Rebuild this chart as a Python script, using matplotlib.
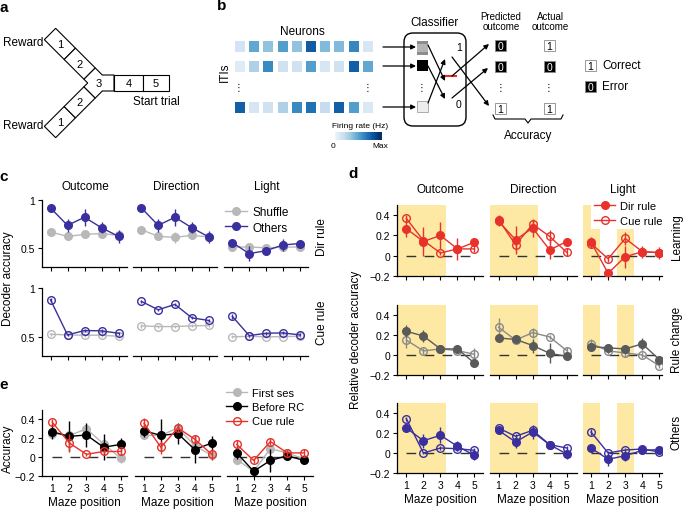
import numpy as np
import matplotlib
matplotlib.use("Agg")
import matplotlib.pyplot as plt
from matplotlib.patches import Rectangle, Polygon, FancyBboxPatch
from matplotlib.lines import Line2D

plt.rcParams["font.family"] = ["Liberation Sans", "DejaVu Sans"]
plt.rcParams["axes.linewidth"] = 0.9

# ---------------- data ----------------
positions = [1, 2, 3, 4, 5]
columns = ["Outcome", "Direction", "Light"]

# panel b: firing rates (0..1) for the three example ITIs
iti_rates_1 = [0.12, 0.55, 0.4, 0.6, 0.4, 0.92, 0.45, 0.45, 0.72, 0.1]
iti_rates_2 = [0.05, 0.3, 0.7, 0.15, 0.15, 0.6, 0.1, 0.15, 0.9, 0.55]
iti_rates_3 = [0.9, 0.1, 0.15, 0.3, 0.7, 0.82, 0.2, 0.9, 0.6, 0.08]

# panel c: decoder accuracy, one list per column (Outcome, Direction, Light)
c_dir_others = [[0.917, 0.735, 0.82, 0.71, 0.62],
                [0.917, 0.735, 0.82, 0.71, 0.615],
                [0.555, 0.44, 0.47, 0.53, 0.545]]
c_dir_others_err = [[0.02, 0.07, 0.09, 0.055, 0.07],
                    [0.02, 0.07, 0.09, 0.055, 0.06],
                    [0.04, 0.08, 0.04, 0.06, 0.03]]
c_dir_shuffle = [[0.666, 0.62, 0.64, 0.65, 0.63],
                 [0.69, 0.62, 0.61, 0.63, 0.615],
                 [0.507, 0.51, 0.50, 0.507, 0.51]]
c_dir_shuffle_err = [[0.02, 0.03, 0.04, 0.03, 0.03],
                     [0.03, 0.04, 0.06, 0.04, 0.05],
                     [0.04, 0.03, 0.03, 0.04, 0.04]]
c_cue_others = [[0.879, 0.517, 0.562, 0.559, 0.534],
                [0.862, 0.776, 0.831, 0.693, 0.666],
                [0.707, 0.51, 0.534, 0.538, 0.517]]
c_cue_others_err = [[0.02, 0.01, 0.02, 0.02, 0.015],
                    [0.015, 0.01, 0.015, 0.015, 0.015],
                    [0.03, 0.01, 0.015, 0.015, 0.015]]
c_cue_shuffle = [[0.524, 0.517, 0.514, 0.514, 0.503],
                 [0.61, 0.603, 0.603, 0.61, 0.614],
                 [0.497, 0.503, 0.497, 0.5, 0.503]]
c_cue_shuffle_err = [[0.015, 0.015, 0.015, 0.015, 0.015],
                     [0.02, 0.015, 0.015, 0.015, 0.015],
                     [0.015, 0.015, 0.015, 0.015, 0.015]]

# panel d: relative decoder accuracy (filled = Dir rule, open = Cue rule)
d_learn_dir = [[0.267, 0.14, 0.2, 0.067, 0.133],
               [0.34, 0.157, 0.273, 0.057, 0.14],
               [0.133, -0.173, -0.01, 0.04, 0.03]]
d_learn_dir_err = [[0.08, 0.14, 0.13, 0.11, 0.02],
                   [0.05, 0.14, 0.09, 0.09, 0.02],
                   [0.05, 0.03, 0.11, 0.06, 0.06]]
d_learn_cue = [[0.367, 0.15, 0.027, 0.067, 0.067],
               [0.357, 0.107, 0.31, 0.19, 0.033],
               [0.12, -0.03, 0.17, 0.04, 0.03]]
d_learn_cue_err = [[0.03, 0.03, 0.02, 0.03, 0.03],
                   [0.04, 0.05, 0.04, 0.06, 0.04],
                   [0.04, 0.03, 0.06, 0.05, 0.03]]
d_rc_dir = [[0.237, 0.19, 0.061, 0.061, -0.081],
            [0.17, 0.156, 0.095, 0.017, -0.014],
            [0.085, 0.071, 0.061, 0.112, -0.047]]
d_rc_dir_err = [[0.06, 0.06, 0.03, 0.04, 0.03],
                [0.02, 0.03, 0.07, 0.1, 0.03],
                [0.03, 0.02, 0.02, 0.06, 0.03]]
d_rc_cue = [[0.149, 0.041, 0.061, 0.044, 0.007],
            [0.278, 0.149, 0.224, 0.18, 0.044],
            [0.115, 0.041, 0.02, 0.0, -0.108]]
d_rc_cue_err = [[0.08, 0.03, 0.03, 0.03, 0.06],
                [0.09, 0.04, 0.05, 0.02, 0.04],
                [0.05, 0.03, 0.04, 0.03, 0.02]]
d_oth_dir = [[0.25, 0.123, 0.177, 0.067, -0.023],
             [0.227, 0.11, 0.21, 0.083, -0.01],
             [0.05, -0.063, -0.027, 0.027, 0.033]]
d_oth_dir_err = [[0.02, 0.07, 0.08, 0.05, 0.05],
                 [0.02, 0.06, 0.07, 0.03, 0.05],
                 [0.04, 0.07, 0.05, 0.04, 0.02]]
d_oth_cue = [[0.343, 0.0, 0.05, 0.043, 0.027],
             [0.25, 0.167, 0.227, 0.083, 0.05],
             [0.21, 0.0, 0.03, 0.04, 0.01]]
d_oth_cue_err = [[0.02, 0.01, 0.02, 0.02, 0.02],
                 [0.02, 0.02, 0.02, 0.03, 0.02],
                 [0.03, 0.02, 0.02, 0.02, 0.02]]

# panel e: accuracy
e_first = [[0.25, 0.23, 0.30, 0.14, -0.01],
           [0.23, 0.23, 0.31, 0.12, 0.02],
           [-0.025, -0.15, 0.09, 0.045, -0.02]]
e_first_err = [[0.04, 0.04, 0.05, 0.06, 0.05],
               [0.04, 0.04, 0.04, 0.05, 0.05],
               [0.05, 0.03, 0.05, 0.04, 0.03]]
e_before = [[0.27, 0.22, 0.235, 0.105, 0.135],
            [0.28, 0.23, 0.25, 0.08, 0.15],
            [0.045, -0.15, -0.035, 0.015, -0.035]]
e_before_err = [[0.08, 0.16, 0.13, 0.14, 0.07],
                [0.07, 0.17, 0.11, 0.14, 0.07],
                [0.06, 0.04, 0.12, 0.05, 0.02]]
e_cue = [[0.37, 0.15, 0.03, 0.06, 0.06],
         [0.36, 0.105, 0.31, 0.19, 0.03],
         [0.135, -0.035, 0.165, 0.045, 0.045]]
e_cue_err = [[0.03, 0.1, 0.015, 0.03, 0.04],
             [0.05, 0.07, 0.04, 0.04, 0.06],
             [0.05, 0.03, 0.04, 0.03, 0.04]]

BLUE = "#3a2f9f"
GREY = "#b8b8b8"
RED = "#e8312a"
DGREY = "#5a5a5a"
MGREY = "#8a8a8a"
YELLOW = "#fde9a3"

W, H = 685, 510
fig = plt.figure(figsize=(W / 100, H / 100), dpi=100)


def px_axes(x0, y0, x1, y1):
    return fig.add_axes([x0 / W, 1 - y1 / H, (x1 - x0) / W, (y1 - y0) / H])


def ftext(x, y, s, **kw):
    kw.setdefault("ha", "center")
    kw.setdefault("va", "center")
    fig.text(x / W, 1 - y / H, s, **kw)


def style(ax, left, xlabels):
    for s in ["top", "right"]:
        ax.spines[s].set_visible(False)
    if not left:
        ax.spines["left"].set_visible(False)
        ax.tick_params(axis="y", left=False, labelleft=False)
    ax.tick_params(length=3, width=0.8, labelsize=7.5, pad=2)
    ax.set_xticks(positions)
    if not xlabels:
        ax.set_xticklabels([])


def series(ax, y, err, color, filled, z=3):
    ax.errorbar(positions, y, yerr=err, color=color, marker="o", ms=5.5,
                mfc=color if filled else "none", mec=color, mew=1,
                lw=1, elinewidth=1, capsize=0, zorder=z)


def zero_line(ax):
    ax.plot([1, 5], [0, 0], color="#333333", lw=1, ls=(0, (7, 6)), zorder=1)


# overlay for the diagrams
ov = fig.add_axes([0, 0, 1, 1])
ov.set_xlim(0, W)
ov.set_ylim(H, 0)
ov.axis("off")

# ---------------- panel a: maze ----------------
d_vec = np.array([1, 1]) / np.sqrt(2)
n_vec = np.array([1, -1]) / np.sqrt(2)
hw, cell, start = 8, 28, np.array([50.0, 35.0])


def mirror(p):
    return np.array([p[0], 168 - p[1]])


for flip in (False, True):
    for k in range(2):
        c0 = start + k * cell * d_vec
        c1 = c0 + cell * d_vec
        pts = [c0 + hw * n_vec, c1 + hw * n_vec, c1 - hw * n_vec, c0 - hw * n_vec]
        ctr = (c0 + c1) / 2
        if flip:
            pts = [mirror(p) for p in pts]
            ctr = mirror(ctr)
        ov.add_patch(Polygon(pts, closed=True, fc="white", ec="k", lw=0.8))
        ov.text(ctr[0], ctr[1], str(k + 1), ha="center", va="center", fontsize=8)

end2 = start + 2 * cell * d_vec
up_out, up_in = end2 + hw * n_vec, end2 - hw * n_vec
junction = [up_out, (102.3, 76), (114, 76), (114, 92), (102.3, 92),
            mirror(up_out), mirror(up_in), (87.7, 84), up_in]
ov.add_patch(Polygon(junction, closed=True, fc="white", ec="k", lw=0.8))
ov.text(99, 84, "3", ha="center", va="center", fontsize=8)
ov.add_patch(Rectangle((114, 76), 29, 16, fc="white", ec="k", lw=0.8))
ov.add_patch(Rectangle((143, 76), 26, 16, fc="white", ec="k", lw=0.8))
ov.text(128.5, 84, "4", ha="center", va="center", fontsize=8)
ov.text(156, 84, "5", ha="center", va="center", fontsize=8)
ov.text(3, 43, "Reward", ha="left", va="center", fontsize=8.5)
ov.text(3, 126, "Reward", ha="left", va="center", fontsize=8.5)
ov.text(133, 102, "Start trial", ha="left", va="center", fontsize=8.5)

# ---------------- panel b: decoder scheme ----------------
cmap = plt.get_cmap("Blues")
for rates, y0 in zip([iti_rates_1, iti_rates_2, iti_rates_3], [42, 62, 103]):
    for i, r in enumerate(rates):
        ov.add_patch(Rectangle((235 + i * 14.2, y0), 10, 11, fc=cmap(0.08 + 0.82 * r), ec="none"))
ov.text(302, 32, "Neurons", ha="center", va="center", fontsize=8.5)
ov.text(225, 72, "ITIs", ha="center", va="center", fontsize=8.5, rotation=90)
for x in (239, 368, 422, 501, 549):
    ov.text(x, 88, "⋮", ha="center", va="center", fontsize=7)

grad = np.linspace(0, 1, 100).reshape(1, -1)
ov.imshow(grad, cmap="Blues", extent=(335, 382, 141, 133), aspect="auto", vmin=-0.05, vmax=0.95)
ov.text(360, 127, "Firing rate (Hz)", ha="center", va="center", fontsize=6)
ov.text(333, 147, "0", ha="center", va="center", fontsize=6)
ov.text(380, 147, "Max", ha="center", va="center", fontsize=6)

arrow_kw = dict(arrowstyle="-|>", lw=0.9, color="k", mutation_scale=7, shrinkA=0, shrinkB=0)
for y in (48, 67, 108):
    ov.annotate("", xy=(416, y), xytext=(383, y), arrowprops=arrow_kw)

ov.add_patch(FancyBboxPatch((404, 34), 62, 93, boxstyle="round,pad=0,rounding_size=9",
                            fc="white", ec="k", lw=1))
ov.text(435, 23, "Classifier", ha="center", va="center", fontsize=8.5)
ov.add_patch(Rectangle((417, 42), 11, 14, fc="#b4b4b4", ec="none"))
ov.add_patch(Rectangle((417, 42), 11, 3, fc="#8c8c8c", ec="none"))
ov.add_patch(Rectangle((417, 53), 11, 3, fc="#8c8c8c", ec="none"))
ov.add_patch(Rectangle((417, 61), 11, 11, fc="black", ec="none"))
ov.add_patch(Rectangle((417, 102), 11, 11, fc="#eeeeee", ec="#a0a0a0", lw=0.6))
vgrad = np.linspace(0, 1, 100).reshape(-1, 1)
ov.imshow(vgrad, cmap="Greys", extent=(447, 452, 102, 50), aspect="auto", vmin=-0.1, vmax=1.0)
ov.plot([443, 456], [77, 77], color="#e03020", lw=1.5)
ov.text(456, 48, "1", ha="left", va="center", fontsize=7.5)
ov.text(456, 105, "0", ha="left", va="center", fontsize=7.5)
for (x0, y0), (x1, y1) in [((428, 46), (445, 82)), ((428, 67), (445, 100)), ((428, 104), (445, 60))]:
    ov.annotate("", xy=(x1, y1), xytext=(x0, y0), arrowprops=arrow_kw)
for (x0, y0), (x1, y1) in [((452, 77), (489, 45)), ((452, 99), (488, 69)), ((452, 58), (489, 107))]:
    ov.annotate("", xy=(x1, y1), xytext=(x0, y0), arrowprops=arrow_kw)

ov.text(501, 22, "Predicted\noutcome", ha="center", va="center", fontsize=7, linespacing=1.1)
ov.text(550, 22, "Actual\noutcome", ha="center", va="center", fontsize=7, linespacing=1.1)
for x, vals in [(495, ["0", "0", "1"]), (544, ["1", "0", "1"])]:
    for v, y0 in zip(vals, [41, 62, 104]):
        dark = v == "0"
        ov.add_patch(Rectangle((x, y0), 11, 11, fc="black" if dark else "white", ec="#888888", lw=0.6))
        ov.text(x + 5.5, y0 + 5.8, v, ha="center", va="center", fontsize=7.5,
                color="white" if dark else "black")
ov.plot([493, 495, 525, 528, 531, 561, 563], [116, 120, 120, 124, 120, 120, 116], color="k", lw=0.8)
ov.text(528, 136, "Accuracy", ha="center", va="center", fontsize=8.5)
ov.add_patch(Rectangle((585, 61), 11, 11, fc="white", ec="#888888", lw=0.6))
ov.text(590.5, 67, "1", ha="center", va="center", fontsize=7.5)
ov.add_patch(Rectangle((585, 82), 11, 11, fc="black", ec="#888888", lw=0.6))
ov.text(590.5, 88, "0", ha="center", va="center", fontsize=7.5, color="white")
ov.text(602, 66, "Correct", ha="left", va="center", fontsize=8.5)
ov.text(602, 87, "Error", ha="left", va="center", fontsize=8.5)

# ---------------- panel c ----------------
c_cols = [(42, 127), (133, 217), (224, 308)]
c_rows = [(201, 268, c_dir_shuffle, c_dir_shuffle_err, c_dir_others, c_dir_others_err, True),
          (289, 357, c_cue_shuffle, c_cue_shuffle_err, c_cue_others, c_cue_others_err, False)]
for r, (y0, y1, shuf, shuf_e, oth, oth_e, filled) in enumerate(c_rows):
    for j, (x0, x1) in enumerate(c_cols):
        ax = px_axes(x0, y0, x1, y1)
        series(ax, shuf[j], shuf_e[j], GREY, filled, z=2)
        series(ax, oth[j], oth_e[j], BLUE, filled, z=3)
        ax.set_xlim(0.5, 5.5)
        ax.set_ylim(0.3, 1.0)
        ax.set_yticks([0.5, 1])
        ax.set_yticklabels(["0.5", "1"])
        style(ax, j == 0, False)
        if r == 0 and j == 2:
            handles = [Line2D([], [], color=GREY, marker="o", ms=5.5, lw=1),
                       Line2D([], [], color=BLUE, marker="o", ms=5.5, lw=1)]
            ax.legend(handles, ["Shuffle", "Others"], loc="upper left",
                      bbox_to_anchor=(225 / W, 1 - 207 / H), bbox_transform=fig.transFigure,
                      frameon=False, fontsize=8.5, handlelength=1.9, handletextpad=0.4,
                      labelspacing=0.3, borderpad=0, borderaxespad=0)
for j, t in enumerate(columns):
    ftext((c_cols[j][0] + c_cols[j][1]) / 2 + 1, 187, t, fontsize=8.5)
ftext(322, 237, "Dir rule", fontsize=8.5, rotation=90)
ftext(322, 323, "Cue rule", fontsize=8.5, rotation=90)
ftext(8, 279, "Decoder accuracy", fontsize=8.5, rotation=90)

# ---------------- panel d ----------------
d_cols = [(397, 483, (0.45, 5.5)), (490, 577, (0.5, 5.6)), (583, 662, (0.53, 5.15))]
d_rows = [(206, 277, d_learn_dir, d_learn_dir_err, d_learn_cue, d_learn_cue_err, RED, RED),
          (306, 376, d_rc_dir, d_rc_dir_err, d_rc_cue, d_rc_cue_err, DGREY, MGREY),
          (404, 474, d_oth_dir, d_oth_dir_err, d_oth_cue, d_oth_cue_err, BLUE, BLUE)]
yt = [-0.2, 0, 0.2, 0.4]
ytl = ["\u22120.2", "0", "0.2", "0.4"]
for r, (y0, y1, fil, fil_e, opn, opn_e, cf, co) in enumerate(d_rows):
    for j, (x0, x1, xl) in enumerate(d_cols):
        ax = px_axes(x0, y0, x1, y1)
        if j < 2:
            ax.axvspan(xl[0], 3.3, color=YELLOW, lw=0, zorder=0)
        else:
            ax.axvspan(xl[0], 1.5, color=YELLOW, lw=0, zorder=0)
            ax.axvspan(2.5, 3.5, color=YELLOW, lw=0, zorder=0)
        zero_line(ax)
        series(ax, opn[j], opn_e[j], co, False, z=3)
        series(ax, fil[j], fil_e[j], cf, True, z=4)
        ax.set_xlim(*xl)
        ax.set_ylim(-0.2, 0.5)
        ax.set_yticks(yt)
        ax.set_yticklabels(ytl)
        style(ax, j == 0, r == 2)
        if r == 2:
            ax.set_xlabel("Maze position", fontsize=8.5, labelpad=2.5)
        if r == 0 and j == 2:
            handles = [Line2D([], [], color=RED, marker="o", ms=5.5, lw=1),
                       Line2D([], [], color=RED, marker="o", ms=5.5, lw=1, mfc="none")]
            leg = ax.legend(handles, ["Dir rule", "Cue rule"], loc="upper left",
                            bbox_to_anchor=(591 / W, 1 - 199 / H), bbox_transform=fig.transFigure,
                            frameon=True, fontsize=8, handlelength=1.9, handletextpad=0.45,
                            labelspacing=0.4, borderpad=0.3, borderaxespad=0, fancybox=False)
            leg.get_frame().set_edgecolor("none")
            leg.get_frame().set_facecolor("white")
            leg.get_frame().set_alpha(1)
for j, t in enumerate(columns):
    ftext((d_cols[j][0] + d_cols[j][1]) / 2, 190, t, fontsize=8.5)
ftext(677, 237, "Learning", fontsize=8.5, rotation=90)
ftext(677, 340, "Rule change", fontsize=8.5, rotation=90)
ftext(677, 432, "Others", fontsize=8.5, rotation=90)
ftext(356, 340, "Relative decoder accuracy", fontsize=8.5, rotation=90)

# ---------------- panel e ----------------
e_cols = [(42, 127, (0.4, 5.37)), (135, 220, (0.47, 5.49)), (227, 313, (0.42, 5.53))]
for j, (x0, x1, xl) in enumerate(e_cols):
    ax = px_axes(x0, 411, x1, 477)
    zero_line(ax)
    series(ax, e_first[j], e_first_err[j], GREY, True, z=2)
    series(ax, e_before[j], e_before_err[j], "black", True, z=3)
    series(ax, e_cue[j], e_cue_err[j], RED, False, z=4)
    ax.set_xlim(*xl)
    ax.set_ylim(-0.2, 0.5)
    ax.set_yticks(yt)
    ax.set_yticklabels(ytl)
    style(ax, j == 0, True)
    ax.set_xlabel("Maze position", fontsize=8.5, labelpad=2.5)
    if j == 2:
        handles = [Line2D([], [], color=GREY, marker="o", ms=5.5, lw=1),
                   Line2D([], [], color="black", marker="o", ms=5.5, lw=1),
                   Line2D([], [], color=RED, marker="o", ms=5.5, lw=1, mfc="none")]
        ax.legend(handles, ["First ses", "Before RC", "Cue rule"], loc="upper left",
                  bbox_to_anchor=(226 / W, 1 - 389 / H), bbox_transform=fig.transFigure,
                  frameon=False, fontsize=8, handlelength=1.9, handletextpad=0.45,
                  labelspacing=0.38, borderpad=0, borderaxespad=0)
ftext(8, 449, "Accuracy", fontsize=8.5, rotation=90)

# panel letters
for s, x, y in [("a", 4, 8), ("b", 222, 6), ("c", 4, 177), ("d", 353, 174), ("e", 4, 385)]:
    ftext(x, y, s, fontsize=11, fontweight="bold")

fig.savefig("out.png", dpi=100)
